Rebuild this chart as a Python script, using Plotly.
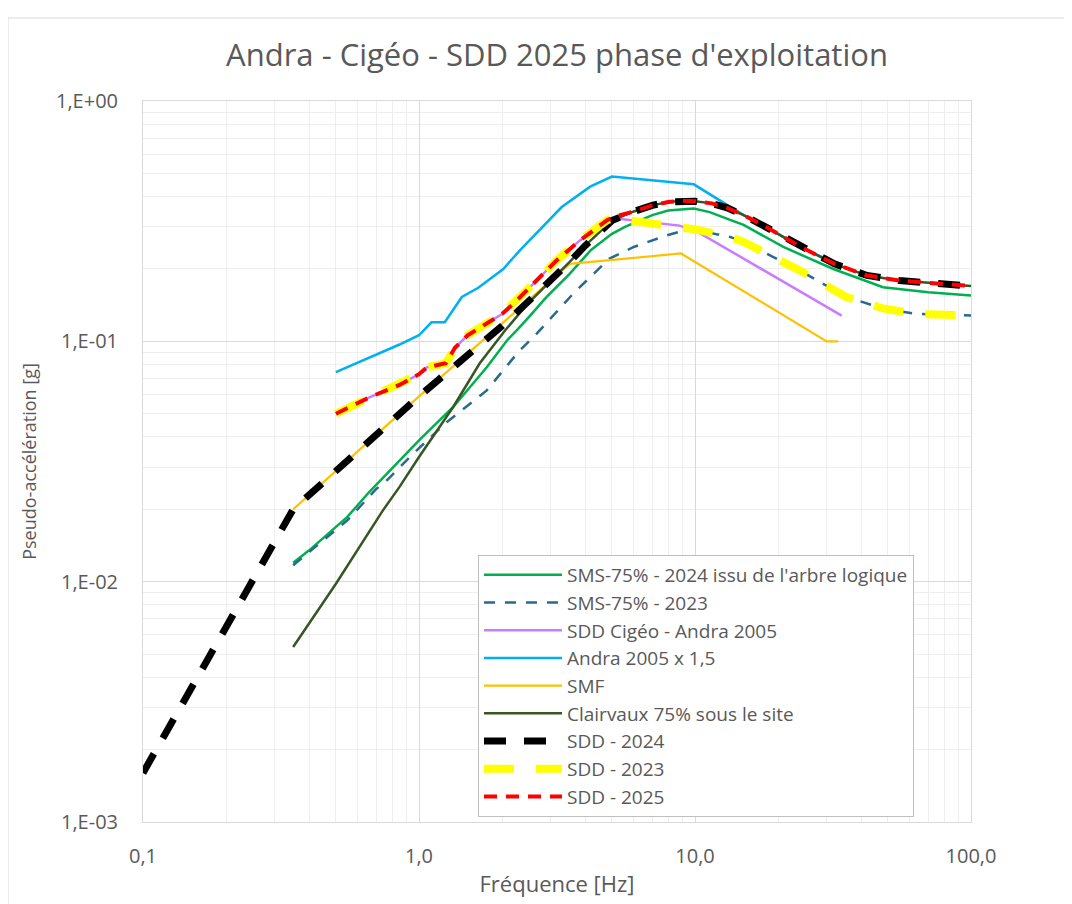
import plotly.graph_objects as go

# ---------------- data ----------------
f_sms24 = [0.35, 0.40, 0.55, 0.66, 0.85, 1.0, 1.33, 1.76, 2.1, 2.26, 2.5, 2.9, 3.5, 4.2, 5.0, 5.6, 7.0, 8.0, 9.9, 11.3, 13.4, 15, 20.9, 31.7, 48, 70, 100]
v_sms24 = [0.012, 0.0135, 0.0186, 0.0236, 0.0319, 0.0387, 0.0533, 0.078, 0.102, 0.111, 0.126, 0.153, 0.19, 0.24, 0.28, 0.30, 0.335, 0.35, 0.357, 0.345, 0.32, 0.305, 0.247, 0.20, 0.168, 0.16, 0.155]

f_sms23 = [0.35, 0.40, 0.55, 0.70, 0.76, 0.95, 1.26, 1.76, 2.29, 2.67, 3.62, 4.17, 4.9, 6.0, 7.9, 9.0, 10.1, 13.4, 15, 20.3, 24, 35.3, 48, 63.5, 100]
v_sms23 = [0.0117, 0.0133, 0.0180, 0.0243, 0.0262, 0.034, 0.0461, 0.0625, 0.0903, 0.1076, 0.158, 0.185, 0.221, 0.247, 0.276, 0.288, 0.29, 0.272, 0.259, 0.217, 0.197, 0.153, 0.137, 0.13, 0.128]

f_cig05 = [0.5, 0.664, 0.853, 1.0, 1.07, 1.25, 1.35, 1.5, 2.0, 2.2, 2.6, 2.9, 3.15, 3.83, 4.8, 5.1, 6.5, 8.8, 10.4, 34]
v_cig05 = [0.05, 0.0586, 0.066, 0.073, 0.078, 0.081, 0.094, 0.106, 0.13, 0.1435, 0.174, 0.197, 0.217, 0.263, 0.319, 0.325, 0.314, 0.303, 0.282, 0.128]

f_andra = [0.5, 0.85, 1.0, 1.11, 1.24, 1.43, 1.64, 2.02, 2.32, 3.29, 4.17, 5.0, 9.9, 13.4, 15, 18, 24, 32, 34]
v_andra = [0.0745, 0.097, 0.106, 0.12, 0.12, 0.153, 0.167, 0.2, 0.239, 0.362, 0.44, 0.485, 0.45, 0.362, 0.335, 0.30, 0.248, 0.212, 0.205]

f_smf = [0.35, 1.0, 3.52, 8.9, 30, 33]
v_smf = [0.02, 0.059, 0.21, 0.232, 0.10, 0.10]

f_clair = [0.35, 0.5, 0.74, 0.85, 1.0, 1.33, 1.66, 2.05, 2.5, 3.0, 3.5, 4.0, 4.5, 5.0, 6.0, 7.0, 8.0, 9.0, 10.0, 11.5, 13.0, 15.0, 18.0, 24.0, 32.0, 42.0, 55.0, 70.0, 100.0]
v_clair = [0.00535, 0.0098, 0.0198, 0.0248, 0.033, 0.0533, 0.081, 0.111, 0.145, 0.178, 0.213, 0.25, 0.283, 0.318, 0.347, 0.368, 0.38, 0.385, 0.383, 0.375, 0.36, 0.335, 0.30, 0.248, 0.21, 0.188, 0.179, 0.175, 0.17]

f_sdd24 = [0.1, 0.35, 1.0, 2.0, 2.67, 3.0, 3.5, 4.0, 4.5, 5.0, 6.0, 7.0, 8.0, 9.0, 10.0, 11.5, 13.0, 15.0, 18.0, 24.0, 32.0, 42.0, 55.0, 70.0, 100.0]
v_sdd24 = [0.0016, 0.02, 0.059, 0.116, 0.158, 0.178, 0.213, 0.25, 0.283, 0.318, 0.347, 0.368, 0.38, 0.385, 0.383, 0.375, 0.36, 0.335, 0.30, 0.248, 0.21, 0.188, 0.179, 0.175, 0.17]

f_sdd23 = [0.5, 0.664, 0.853, 1.0, 1.07, 1.25, 1.35, 1.5, 2.0, 2.2, 2.6, 2.9, 3.15, 3.83, 4.8, 5.1, 6.5, 8.8, 10.1, 13.4, 15, 20.3, 24, 35.3, 48, 63.5, 100]
v_sdd23 = [0.05, 0.0586, 0.066, 0.073, 0.078, 0.081, 0.094, 0.106, 0.13, 0.1435, 0.174, 0.197, 0.217, 0.263, 0.319, 0.325, 0.314, 0.303, 0.292, 0.272, 0.259, 0.217, 0.197, 0.153, 0.137, 0.13, 0.128]

f_sdd25 = [0.5, 0.664, 0.853, 1.0, 1.07, 1.25, 1.35, 1.5, 2.0, 2.2, 2.6, 2.9, 3.15, 3.83, 4.8, 5.1, 6.0, 7.0, 8.0, 9.0, 10.0, 11.5, 13.0, 15.0, 18.0, 24.0, 32.0, 42.0, 55.0, 70.0, 100.0]
v_sdd25 = [0.05, 0.0586, 0.066, 0.073, 0.078, 0.081, 0.094, 0.106, 0.13, 0.1435, 0.174, 0.197, 0.217, 0.263, 0.319, 0.33, 0.347, 0.368, 0.38, 0.385, 0.383, 0.375, 0.36, 0.335, 0.30, 0.248, 0.21, 0.188, 0.179, 0.175, 0.17]

x_tickvals = [0.1, 1, 10, 100]
x_ticktext = ["0,1", "1,0", "10,0", "100,0"]
y_tickvals = [0.001, 0.01, 0.1, 1]
y_ticktext = ["1,E-03", "1,E-02", "1,E-01", "1,E+00"]

# ---------------- figure ----------------
FONT = "Open Sans"
GREY = "#595959"

series = [
    ("SMS-75% - 2024 issu de l'arbre logique", f_sms24, v_sms24, dict(color="#00B050", width=2.5)),
    ("SMS-75% - 2023", f_sms23, v_sms23, dict(color="#2B6A8C", width=2.5, dash="11px,10px")),
    ("SDD Cigéo - Andra 2005", f_cig05, v_cig05, dict(color="#C77DFF", width=2.5)),
    ("Andra 2005 x 1,5", f_andra, v_andra, dict(color="#00B0F0", width=2.5)),
    ("SMF", f_smf, v_smf, dict(color="#FFC000", width=2.2)),
    ("Clairvaux 75% sous le site", f_clair, v_clair, dict(color="#375623", width=2.5)),
    ("SDD - 2024", f_sdd24, v_sdd24, dict(color="#000000", width=7, dash="22px,18px")),
    ("SDD - 2023", f_sdd23, v_sdd23, dict(color="#FFFF00", width=8, dash="30px,22px")),
    ("SDD - 2025", f_sdd25, v_sdd25, dict(color="#FF0000", width=4, dash="13px,9px")),
]

fig = go.Figure()
for name, fx, vy, ln in series:
    fig.add_trace(go.Scatter(x=fx, y=vy, mode="lines", name=name, line=ln))

minor_x = [k * 10 ** e for e in (-1, 0, 1) for k in range(2, 10)]
minor_y = [k * 10 ** e for e in (-3, -2, -1) for k in range(2, 10)]

# page body has an 8px offset; plot area in the reference spans x 143-971, y 101-822
OFF = 8
fig.update_layout(
    width=1072, height=904,
    paper_bgcolor="white", plot_bgcolor="white",
    margin=dict(l=143 - OFF, r=1072 - (971 - OFF), t=101 - OFF, b=904 - (822 - OFF)),
    font=dict(family=FONT, color=GREY, size=16),
    title=dict(text="Andra - Cigéo - SDD 2025 phase d'exploitation",
               x=(557 - OFF) / 1072, xanchor="center", y=1 - (55 - OFF) / 904, yanchor="middle",
               font=dict(size=31, color=GREY, family=FONT)),
    showlegend=True,
    legend=dict(x=(478 - 143) / 828, y=1 - (555 - 101) / 721, xanchor="left", yanchor="top",
                bgcolor="white", bordercolor="#BFBFBF", borderwidth=1,
                font=dict(size=19, color=GREY, family=FONT),
                itemwidth=78, tracegroupgap=0),
)

fig.update_xaxes(
    type="log", range=[-1, 2],
    tickmode="array", tickvals=x_tickvals, ticktext=x_ticktext,
    showgrid=True, gridcolor="#D9D9D9", gridwidth=1,
    minor=dict(tickmode="array", tickvals=minor_x, showgrid=True, gridcolor="#EEEEEE", ticks=""),
    showline=True, linecolor="#D9D9D9", mirror=True, linewidth=1,
    ticks="", ticklabelstandoff=16,
    tickfont=dict(size=20, color=GREY),
    title=dict(text="Fréquence [Hz]", font=dict(size=22, color=GREY), standoff=8),
    zeroline=False,
)
fig.update_yaxes(
    type="log", range=[-3, 0],
    tickmode="array", tickvals=y_tickvals, ticktext=y_ticktext,
    showgrid=True, gridcolor="#D9D9D9", gridwidth=1,
    minor=dict(tickmode="array", tickvals=minor_y, showgrid=True, gridcolor="#EEEEEE", ticks=""),
    showline=True, linecolor="#D9D9D9", mirror=True, linewidth=1,
    ticks="", ticklabelstandoff=20,
    tickfont=dict(size=20, color=GREY),
    title=dict(text="Pseudo-accélération [g]", font=dict(size=18, color=GREY), standoff=14),
    zeroline=False,
)

# chart-area frame (top and left edges)
ytop = 1 + (101 - 18) / 721
xleft = (8 - 143) / 828
fig.add_shape(type="line", xref="paper", yref="paper", x0=xleft, x1=1.2, y0=ytop, y1=ytop,
              line=dict(color="#D9D9D9", width=1))
fig.add_shape(type="line", xref="paper", yref="paper", x0=xleft, x1=xleft, y0=-0.2, y1=ytop,
              line=dict(color="#D9D9D9", width=1))

fig.write_html("out.html")
